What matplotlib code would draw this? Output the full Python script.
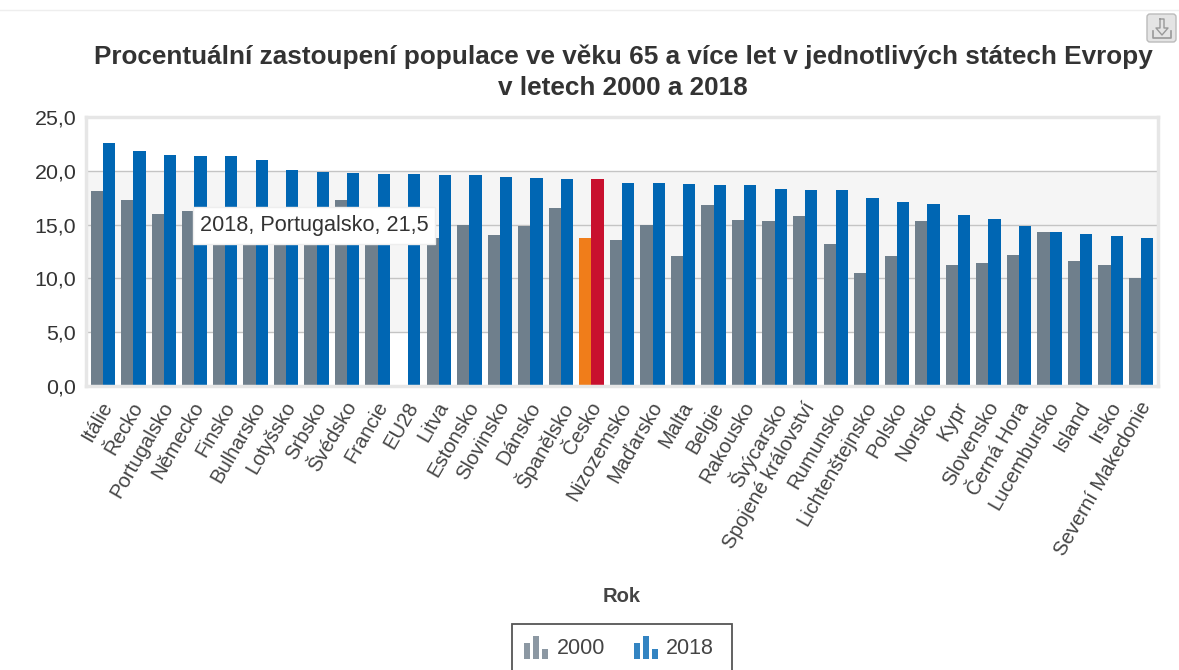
import numpy as np
import matplotlib
matplotlib.use("Agg")
import matplotlib.pyplot as plt
from matplotlib.patches import Rectangle, FancyBboxPatch
from matplotlib.transforms import ScaledTranslation

plt.rcParams['font.family'] = ['Liberation Sans', 'DejaVu Sans']

# data
staty = ['Itálie', 'Řecko', 'Portugalsko', 'Německo', 'Finsko', 'Bulharsko', 'Lotyšsko',
         'Srbsko', 'Švédsko', 'Francie', 'EU28', 'Litva', 'Estonsko', 'Slovinsko', 'Dánsko',
         'Španělsko', 'Česko', 'Nizozemsko', 'Maďarsko', 'Malta', 'Belgie', 'Rakousko',
         'Švýcarsko', 'Spojené království', 'Rumunsko', 'Lichtenštejnsko', 'Polsko', 'Norsko',
         'Kypr', 'Slovensko', 'Černá Hora', 'Lucembursko', 'Island', 'Irsko', 'Severní Makedonie']
hodnoty_2000 = [18.1, 17.3, 16.0, 16.3, 14.9, 16.2, 14.8, 16.0, 17.3, 16.1, np.nan, 13.8,
                15.0, 14.0, 14.9, 16.5, 13.8, 13.6, 15.0, 12.1, 16.8, 15.4, 15.3, 15.8,
                13.2, 10.5, 12.1, 15.3, 11.2, 11.4, 12.2, 14.3, 11.6, 11.2, 10.0]
hodnoty_2018 = [22.6, 21.8, 21.5, 21.4, 21.4, 21.0, 20.1, 19.9, 19.8, 19.7, 19.7, 19.6,
                19.6, 19.4, 19.3, 19.2, 19.2, 18.9, 18.9, 18.8, 18.7, 18.7, 18.3, 18.2,
                18.2, 17.5, 17.1, 16.9, 15.9, 15.5, 14.9, 14.3, 14.1, 13.9, 13.8]
y_ticks = [0, 5, 10, 15, 20, 25]

W, H = 1179, 670
SEDA = '#6f7f8c'
MODRA = '#0066b3'

fig = plt.figure(figsize=(W / 100, H / 100), dpi=100)
ax = fig.add_axes([86 / W, 1 - 386 / H, (1158 - 86) / W, (386 - 117) / H])

# podbarveni a mrizka
ax.axhspan(5, 20, color='#f5f5f5', zorder=0, lw=0)
ax.set_axisbelow(True)
ax.grid(axis='y', color='#c4c4c4', lw=1)

x = np.arange(len(staty))
w = 0.4
barvy_2000 = [SEDA] * len(staty)
barvy_2018 = [MODRA] * len(staty)
cz = staty.index('Česko')
barvy_2000[cz] = '#f07d1a'
barvy_2018[cz] = '#c8102e'
ax.bar(x - w / 2, hodnoty_2000, w, color=barvy_2000, zorder=2)
ax.bar(x + w / 2, hodnoty_2018, w, color=barvy_2018, zorder=2)

ax.set_xlim(-0.55, len(staty) - 0.45)
ax.set_ylim(0, 25)
ax.set_yticks(y_ticks)
ax.set_yticklabels([f'{v:.1f}'.replace('.', ',') for v in y_ticks], fontsize=15.4, color='#333333')
ax.set_xticks(x)
ax.set_xticklabels(staty, rotation=60, ha='right', va='top', rotation_mode='anchor',
                   fontsize=14.6, color='#444444')
ax.tick_params(axis='y', length=0, pad=7)
ax.tick_params(axis='x', length=0, pad=9)
# popisky o kousek doleva
posun = ScaledTranslation(-3 / 100, 0, fig.dpi_scale_trans)
for t in ax.get_xticklabels():
    t.set_transform(t.get_transform() + posun)
for s in ax.spines.values():
    s.set_color('#e6e6e6')
    s.set_linewidth(2.5)

# nadpisy
fig.text(623 / W, 1 - 57 / H, 'Procentuální zastoupení populace ve věku 65 a více let v jednotlivých státech Evropy',
         ha='center', va='center', fontsize=18.8, fontweight='bold', color='#333333')
fig.text(623 / W, 1 - 88 / H, 'v letech 2000 a 2018',
         ha='center', va='center', fontsize=18.8, fontweight='bold', color='#333333')
fig.text(622 / W, 1 - 596 / H, 'Rok', ha='center', va='center', fontsize=14.5,
         fontweight='bold', color='#444444')

# prekryvna vrstva v pixelech: tooltip, legenda, tlacitko
ov = fig.add_axes([0, 0, 1, 1], facecolor='none', zorder=5)
ov.set_xlim(0, W)
ov.set_ylim(H, 0)
ov.axis('off')

ov.plot([0, W], [10, 10], color='#eeeeee', lw=1)

# tooltip
ov.add_patch(Rectangle((193, 207), 242, 37, fc='white', ec='#eeeeee', lw=1, zorder=3))
ov.text(314, 226, '2018, Portugalsko, 21,5', ha='center', va='center', fontsize=15.6,
        color='#333333', zorder=4)

# legenda
ov.add_patch(Rectangle((512, 624), 220, 50, fc='white', ec='#555555', lw=1.3))
for x0, c in [(524, SEDA), (634, MODRA)]:
    for dx, top in [(0, 643), (9, 636), (18, 649)]:
        ov.add_patch(Rectangle((x0 + dx, top), 6, 659 - top, fc=c, ec='none', alpha=0.8))
ov.text(557, 649, '2000', ha='left', va='center', fontsize=15.5, color='#444444')
ov.text(666, 649, '2018', ha='left', va='center', fontsize=15.5, color='#444444')

# tlacitko stazeni
ov.add_patch(FancyBboxPatch((1147, 14), 29, 28, boxstyle='round,pad=0,rounding_size=3',
                            fc='#e4e4e4', ec='#bbbbbb', lw=1))
ov.plot([1153, 1153, 1171, 1171], [31, 38, 38, 31], color='#999999', lw=1.2)
ov.plot([1160, 1160, 1156, 1162, 1168, 1164, 1164, 1160],
        [19, 28, 28, 35, 28, 28, 19, 19], color='#999999', lw=1)

fig.savefig('out.png', dpi=100)
